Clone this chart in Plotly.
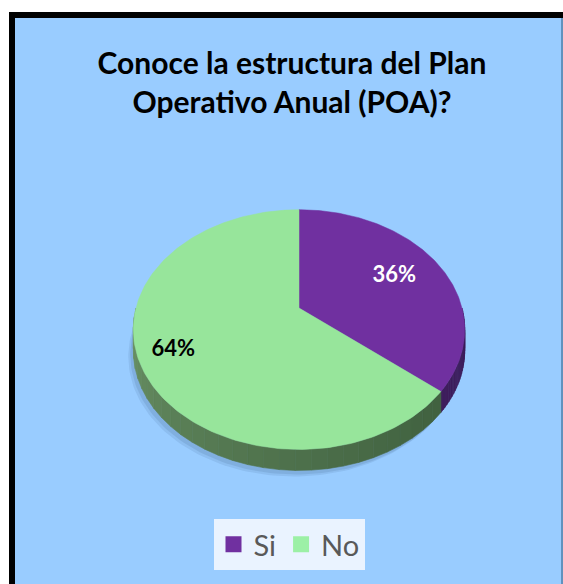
import math
import plotly.graph_objects as go

# ---- data ----
labels = ["Si", "No"]
values = [36, 64]
title_text = "Conoce la estructura del Plan<br>Operativo Anual (POA)?"

# ---- styles ----
W, H = 563, 584
face_colors = ["#7030A0", "#97E59B"]
legend_colors = ["#7030A0", "#9CF0A6"]
side_left = [(90, 58, 130), (110, 150, 104)]    # lighter end of side gradient
side_right = [(60, 28, 90), (60, 92, 60)]       # darker end
label_colors = ["white", "black"]
label_radius = [0.68, 0.8]
CX, CY, A, B, P, DEPTH = 299, 308, 163, 116, 0.18, 21
FONT = "Lato"


def proj(r, deg):
    th = math.radians(deg)
    s, c = math.sin(th), math.cos(th)
    w = 1 + P * r * c
    return CX + A * r * s / w, CY - B * r * c / w


def arc(r, a0, a1, n=120):
    return [proj(r, a0 + (a1 - a0) * i / n) for i in range(n + 1)]


total = sum(values)
fig = go.Figure()

# slice angles (clockwise from 12 o'clock)
bounds = []
acc = 0
for v in values:
    a0 = acc / total * 360
    acc += v
    a1 = acc / total * 360
    bounds.append((a0, a1))

# soft shadow under the pie
for dx, dy, alpha in [(-5, 6, 0.10), (-3, 4, 0.12)]:
    outer = arc(1, 0, 360, 240)
    fig.add_trace(go.Scatter(
        x=[p[0] + dx for p in outer], y=[p[1] + DEPTH + dy for p in outer],
        fill="toself", fillcolor="rgba(40,70,110,%.2f)" % alpha,
        mode="lines", line=dict(width=0), hoverinfo="skip", showlegend=False))

# side bands (front half only), gradient in segments
for i, (a0, a1) in enumerate(bounds):
    s0, s1 = max(a0, 90), min(a1, 270)
    if s1 <= s0:
        continue
    nseg = 30
    for k in range(nseg):
        b0 = s0 + (s1 - s0) * k / nseg
        b1 = s0 + (s1 - s0) * (k + 1) / nseg
        top = arc(1, b0, b1, 6)
        xs = [p[0] for p in top] + [p[0] for p in reversed(top)] + [top[0][0]]
        ys = [p[1] for p in top] + [p[1] + DEPTH for p in reversed(top)] + [top[0][1]]
        t = ((b0 + b1) / 2 - 90) / 180
        cl, cr = side_left[i], side_right[i]
        f = t ** 1.5
        col = tuple(int(cr[j] + (cl[j] - cr[j]) * f) for j in range(3))
        colstr = "rgb(%d,%d,%d)" % col
        fig.add_trace(go.Scatter(x=xs, y=ys, fill="toself", fillcolor=colstr,
                                 mode="lines", line=dict(width=0.6, color=colstr),
                                 hoverinfo="skip", showlegend=False))

# top faces
for i, (a0, a1) in enumerate(bounds):
    pts = [proj(0, 0)] + arc(1, a0, a1, 200) + [proj(0, 0)]
    fig.add_trace(go.Scatter(x=[p[0] for p in pts], y=[p[1] for p in pts],
                             fill="toself", fillcolor=face_colors[i],
                             mode="lines", line=dict(width=0.5, color=face_colors[i]),
                             name=labels[i], hoverinfo="name", showlegend=False))

# percentage labels
lx, ly, lt = [], [], []
for i, (a0, a1) in enumerate(bounds):
    x, y = proj(label_radius[i], (a0 + a1) / 2)
    lx.append(x)
    ly.append(y)
    lt.append(f"{values[i] / total * 100:.0f}%")
fig.add_trace(go.Scatter(x=lx, y=ly, text=lt, mode="text",
                         textfont=dict(family=FONT, size=22, color=label_colors, weight="bold"),
                         hoverinfo="skip", showlegend=False))

# legend entries
for i, lab in enumerate(labels):
    fig.add_trace(go.Scatter(x=[None], y=[None], mode="markers", name=lab,
                             marker=dict(symbol="square", size=22, color=legend_colors[i])))

shapes = [
    dict(type="rect", xref="x", yref="y", x0=9, x1=W + 2, y0=12, y1=H + 2,
         fillcolor="#99CCFF", line=dict(width=0), layer="below"),
    dict(type="line", xref="x", yref="y", x0=12, x1=12, y0=12, y1=H + 2,
         line=dict(color="black", width=6), layer="below"),
    dict(type="line", xref="x", yref="y", x0=9, x1=W + 2, y0=15, y1=15,
         line=dict(color="black", width=6), layer="below"),
    dict(type="line", xref="x", yref="y", x0=562, x1=562, y0=18, y1=H + 2,
         line=dict(color="#4F7FA8", width=1.5), layer="below"),
]

fig.update_layout(
    width=W, height=H,
    margin=dict(l=0, r=0, t=0, b=0),
    paper_bgcolor="white", plot_bgcolor="rgba(0,0,0,0)",
    xaxis=dict(range=[0, W], visible=False, fixedrange=True),
    yaxis=dict(range=[H, 0], visible=False, fixedrange=True),
    shapes=shapes,
    title=dict(text=title_text, x=292 / W, xanchor="center",
               y=1 - 74 / H, yanchor="middle",
               font=dict(family=FONT, size=30, color="black", weight="bold")),
    legend=dict(orientation="h", x=289 / W, xanchor="center",
                y=(H - 519) / H, yanchor="top",
                bgcolor="#EAF3FF", font=dict(family=FONT, size=29, color="#595959"),
                itemsizing="trace"),
    showlegend=True,
)

fig.write_html("out.html", config={"displayModeBar": False},
               post_script="document.body.style.margin='0';document.body.style.overflow='hidden';")
